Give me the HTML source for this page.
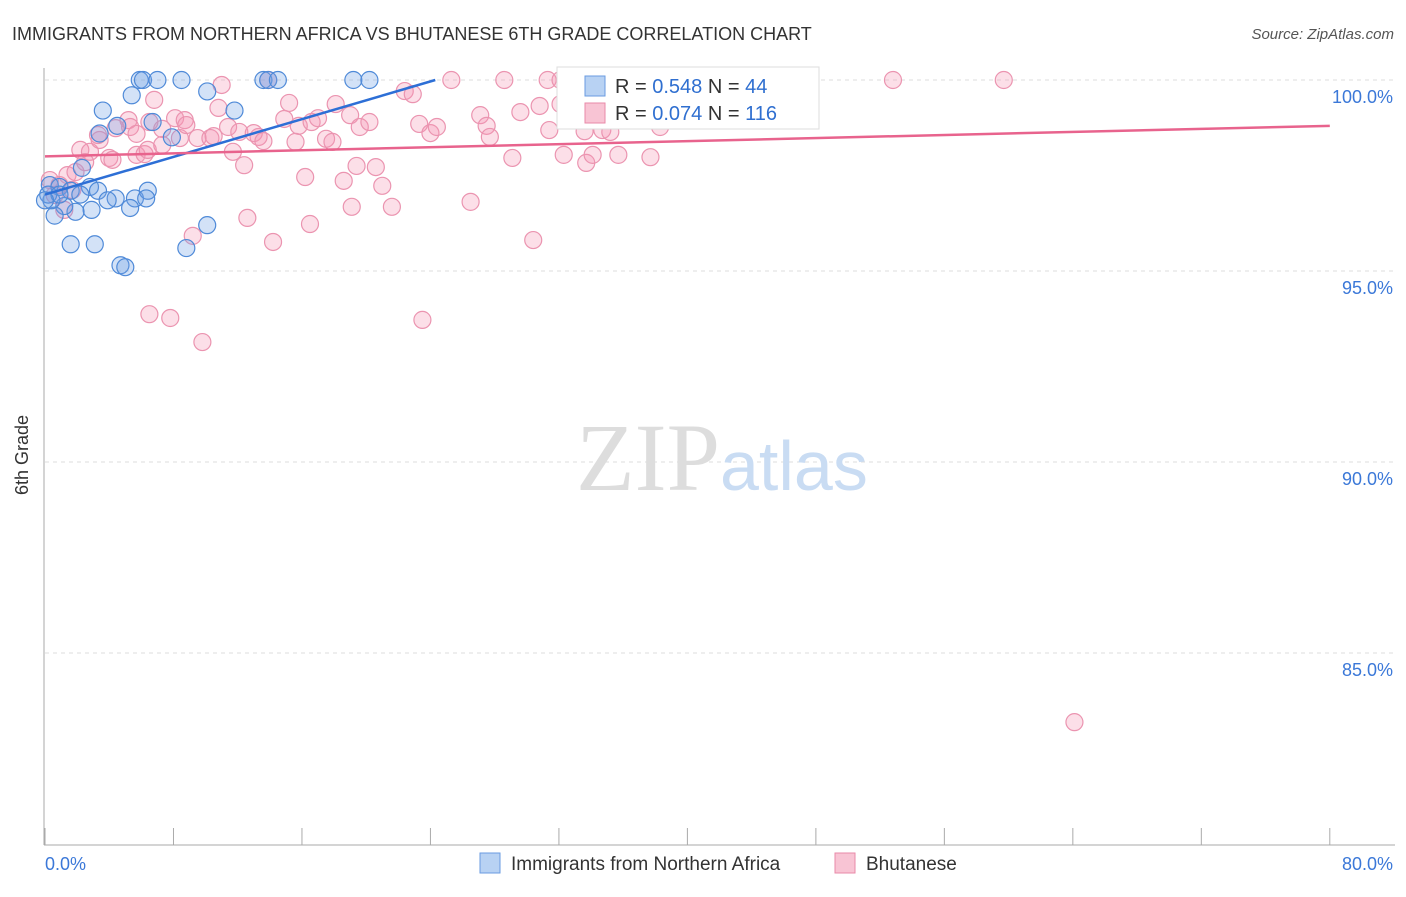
<!DOCTYPE html>
<html><head><meta charset="utf-8"><style>
body{margin:0;background:#fff;font-family:"Liberation Sans",sans-serif;}
</style></head><body>
<svg width="1406" height="892" xmlns="http://www.w3.org/2000/svg" font-family="Liberation Sans, sans-serif">
<text x="12" y="40" font-size="18" fill="#333">IMMIGRANTS FROM NORTHERN AFRICA VS BHUTANESE 6TH GRADE CORRELATION CHART</text>
<text x="1394" y="39" font-size="15" fill="#555" text-anchor="end" font-style="italic">Source: ZipAtlas.com</text>
<text x="28" y="455" font-size="18" fill="#333" text-anchor="middle" transform="rotate(-90 28 455)">6th Grade</text>
<g id="grid"></g>
<text x="720" y="490" font-size="96" fill="#ddd" text-anchor="end" font-family="Liberation Serif, serif">ZIP</text>
<text x="720" y="490" font-size="70" fill="#c9dcf3">atlas</text>
<g id="pts"></g>
<g id="lines"></g>
<g>
<rect x="557" y="67" width="262" height="62" fill="#fff" stroke="#ddd"/>
<rect x="585" y="76" width="20" height="20" fill="#b8d2f3" stroke="#6a9be0"/>
<text x="615" y="93" font-size="20" fill="#333">R = <tspan fill="#2f6fd0">0.548</tspan>   N = <tspan fill="#2f6fd0">44</tspan></text>
<rect x="585" y="103" width="20" height="20" fill="#f8c4d4" stroke="#e98aa8"/>
<text x="615" y="120" font-size="20" fill="#333">R = <tspan fill="#2f6fd0">0.074</tspan>   N = <tspan fill="#2f6fd0">116</tspan></text>
</g>
<g>
<rect x="480" y="853" width="20" height="20" fill="#b8d2f3" stroke="#6a9be0"/>
<text x="511" y="870" font-size="19" fill="#333">Immigrants from Northern Africa</text>
<rect x="835" y="853" width="20" height="20" fill="#f8c4d4" stroke="#e98aa8"/>
<text x="866" y="870" font-size="19" fill="#333">Bhutanese</text>
</g>
</svg>
<script>
const yTicks=[100,95,90,85];
const yTickLabels=["100.0%","95.0%","90.0%","85.0%"];
const xLabels=["0.0%","80.0%"];
const blueX=[5.9,6.1,7.0,8.5,13.6,13.9,14.5,19.2,20.2,5.4,10.1,11.8,3.6,3.4,4.5,6.7,7.9,2.3,0.3,0.9,1.6,2.8,3.3,4.4,5.6,6.4,6.3,3.9,5.3,2.9,1.9,1.2,0.6,0.4,1.6,3.1,4.7,5.0,8.8,10.1,0.2,0.9,0,2.2];
const blueY=[100,100,100,100,100,100,100,100,100,99.6,99.7,99.2,99.2,98.6,98.8,98.9,98.5,97.7,97.25,97.2,97.1,97.2,97.1,96.9,96.9,97.1,96.9,96.85,96.65,96.6,96.55,96.7,96.45,96.85,95.7,95.7,95.15,95.1,95.6,96.2,97.0,97.0,96.85,97.0];
const pinkX=[11.0,13.9,25.3,28.6,31.3,52.8,59.7,5.2,6.5,5.3,5.7,5.7,6.2,6.4,7.3,7.3,8.1,8.7,8.4,8.8,9.5,10.3,10.5,10.8,11.4,11.7,12.1,12.4,13.0,13.3,13.6,15.2,14.9,15.8,15.6,16.2,16.6,17.0,17.5,17.9,18.1,18.6,19.0,19.4,19.6,20.2,20.6,21.0,21.6,22.4,22.9,23.3,24.0,24.4,26.5,27.1,27.5,27.7,29.1,29.6,30.4,30.8,31.4,32.1,32.3,32.6,33.7,33.6,34.1,34.7,35.2,35.7,37.7,38.3,12.6,14.2,16.5,19.1,9.2,6.5,7.8,9.8,23.5,64.1,2.2,2.8,3.4,4.0,4.2,1.4,1.9,2.5,0.9,0.6,1.2,0.3,1.7,4.4,3.3,6.8,32.1,35.8,37.0,40.8,44.5,45.1];
const pinkY=[99.87,100,100,100,100,100,100,98.95,98.9,98.77,98.59,98.04,98.06,98.17,98.72,98.3,99.0,98.95,98.48,98.82,98.48,98.48,98.53,99.27,98.77,98.12,98.64,97.77,98.61,98.51,98.4,99.4,98.98,98.8,98.38,97.46,98.9,99.0,98.46,98.38,99.37,97.36,99.08,97.75,98.77,98.9,97.72,97.23,96.68,99.71,99.63,98.85,98.61,98.77,96.81,99.08,98.8,98.51,97.96,99.16,95.81,99.32,98.69,99.37,98.04,99.48,97.83,98.66,98.04,98.69,98.64,98.04,97.98,98.77,96.39,95.76,96.23,96.68,95.92,93.87,93.77,93.14,93.72,83.19,98.17,98.12,98.43,97.96,97.91,97.51,97.59,97.85,97.25,96.99,96.6,97.38,97.12,98.74,98.56,99.48,100,99.48,99.95,100,100,99.87];
const blueTrend=[[0,97.0],[24.3,100]];
const pinkTrend=[[0,98.0],[80,98.8]];
const NS="http://www.w3.org/2000/svg";
const xs=v=>45+v*16.06;
const ys=v=>80+(100-v)*38.2;
function mk(tag,attrs,parent){const e=document.createElementNS(NS,tag);for(const k in attrs)e.setAttribute(k,attrs[k]);parent.appendChild(e);return e;}
const grid=document.getElementById('grid');
const svg=document.querySelector('svg');
yTicks.forEach((t,i)=>{
 const l=mk('line',{x1:45,x2:1395,y1:ys(t),y2:ys(t),stroke:'#ddd','stroke-dasharray':'4,4'},grid);
 
 
 const tx=mk('text',{x:1393,y:ys(t)+23,'font-size':18,fill:'#3b78d8','text-anchor':'end'},grid);
 tx.textContent=yTickLabels[i];
 
 
});
const ax=mk('line',{x1:44,x2:44,y1:68,y2:845,stroke:'#aaa'},grid);


const bx=mk('line',{x1:44,x2:1395,y1:845,y2:845,stroke:'#aaa'},grid);


for(let i=0;i<=10;i++){
 const t=mk('line',{x1:xs(i*8),x2:xs(i*8),y1:828,y2:845,stroke:'#aaa'},grid);
 
 
}
[[0,45,'start'],[80,1393,'end']].forEach((d,i)=>{
 const t=mk('text',{x:d[1],y:870,'font-size':18,fill:'#3b78d8','text-anchor':d[2]},grid);
 t.textContent=xLabels[i];
 
 
});
const pts=document.getElementById('pts');
pinkX.forEach((v,i)=>{
 const c=mk('circle',{cx:xs(v),cy:ys(pinkY[i]),r:8.5,fill:'rgba(244,150,180,0.3)',stroke:'#eb94b0','stroke-width':1.2},pts);
 
 
});
blueX.forEach((v,i)=>{
 const c=mk('circle',{cx:xs(v),cy:ys(blueY[i]),r:8.5,fill:'rgba(110,160,230,0.3)',stroke:'#4f8ad8','stroke-width':1.2},pts);
 
 
});
const lines=document.getElementById('lines');
const lb=mk('line',{x1:xs(blueTrend[0][0]),y1:ys(blueTrend[0][1]),x2:xs(blueTrend[1][0]),y2:ys(blueTrend[1][1]),stroke:'#2d6fd6','stroke-width':2.5},lines);


const lp=mk('line',{x1:xs(pinkTrend[0][0]),y1:ys(pinkTrend[0][1]),x2:xs(pinkTrend[1][0]),y2:ys(pinkTrend[1][1]),stroke:'#e8638d','stroke-width':2.5},lines);


</script>
</body></html>
